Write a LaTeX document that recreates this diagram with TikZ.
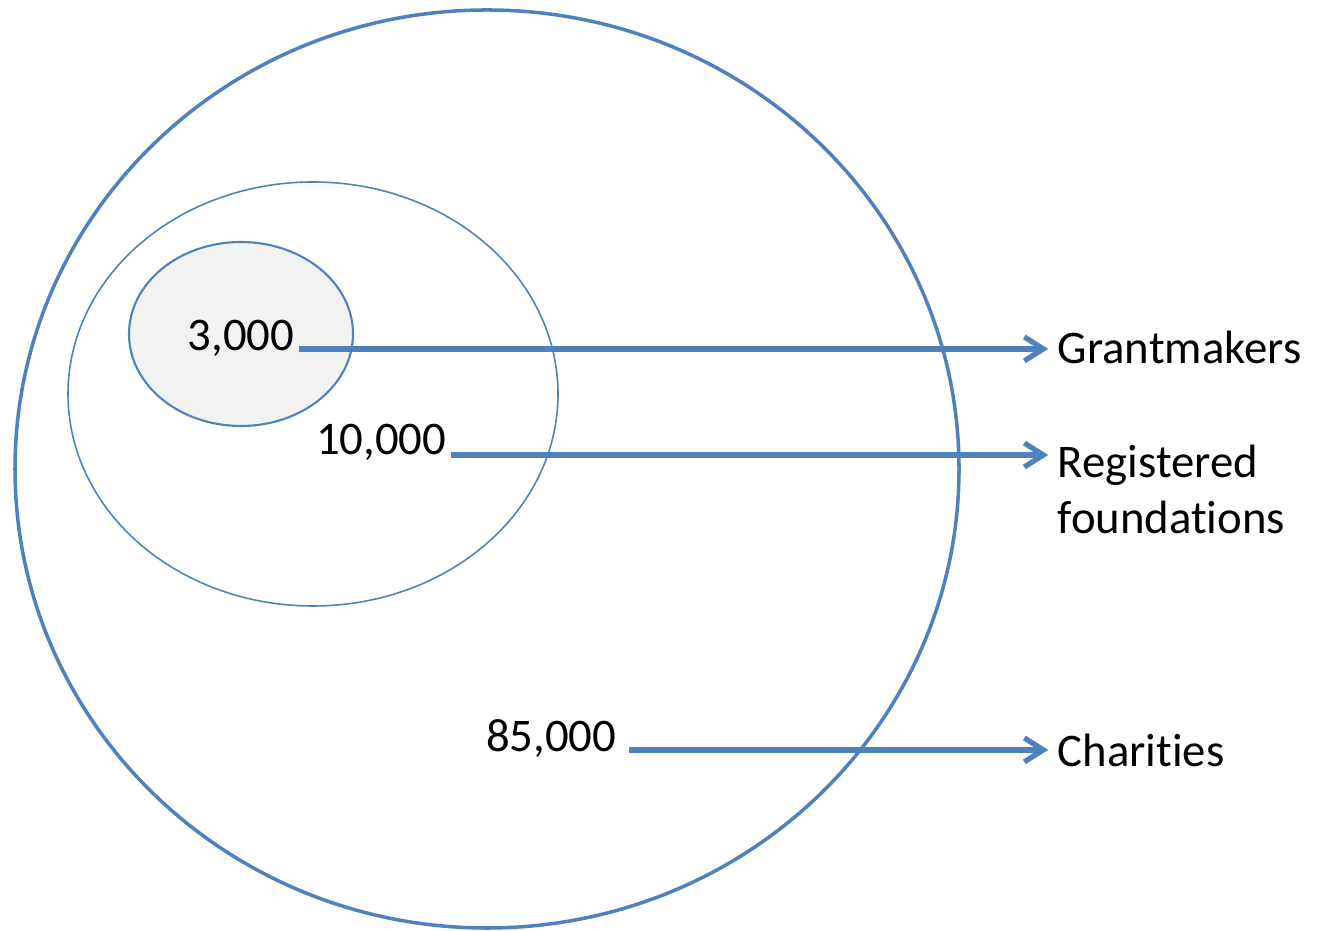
\documentclass[tikz,border=0pt]{standalone}
\usepackage{fontspec}
\setmainfont{Carlito}[Ligatures=NoCommon]
\usetikzlibrary{arrows.meta, positioning}
\definecolor{setblue}{HTML}{4F81BD}
\definecolor{setgrey}{HTML}{F2F2F2}
\tikzset{
  countlbl/.style={anchor=base east, inner sep=0pt, font=\fontsize{13.3}{16}\selectfont},
  grouplbl/.style={anchor=west, inner sep=0pt, align=left, font=\fontsize{13.3}{16}\selectfont},
  pointer/.style={-{Straight Barb[length=1.9mm, width=2.4mm]}, color=setblue, line width=1.5pt}
}
\begin{document}
\begin{tikzpicture}
        \useasboundingbox (0,0) rectangle (13.23,9.30);
        % nested sets
        \draw[setblue, line width=1pt] (4.87,4.61) ellipse (4.72 and 4.59);
        \draw[setblue, line width=0.45pt] (3.13,5.36) ellipse (2.45 and 2.12);
        \draw[setblue, fill=setgrey, line width=0.6pt] (2.41,5.96) ellipse (1.12 and 0.92);
        % counts
        \node[countlbl] (n3) at (2.95,5.79) {3,000};
        \node[countlbl] (n10) at (4.47,4.75) {10,000};
        \node[countlbl] (n85) at (6.17,1.78) {85,000};
        % group names
        \node[grouplbl] (gm) at (10.57,5.83) {Grantmakers};
        \node[grouplbl, anchor=north west] (rf) at (10.57,4.86) {Registered\\foundations};
        \node[grouplbl] (ch) at (10.57,1.80) {Charities};
        \draw[pointer] ([xshift=1pt, yshift=0.6pt]n3.base east) -- ([xshift=-2.5pt, yshift=0.6pt]n3.base east -| gm.west);
        \draw[pointer] ([xshift=1pt]n10.base east) -- ([xshift=-2.5pt]n10.base east -| rf.west);
        \draw[pointer] ([xshift=3.5pt, yshift=0.6pt]n85.base east) -- ([xshift=-2.5pt, yshift=0.6pt]n85.base east -| ch.west);
      \end{tikzpicture}
\end{document}
